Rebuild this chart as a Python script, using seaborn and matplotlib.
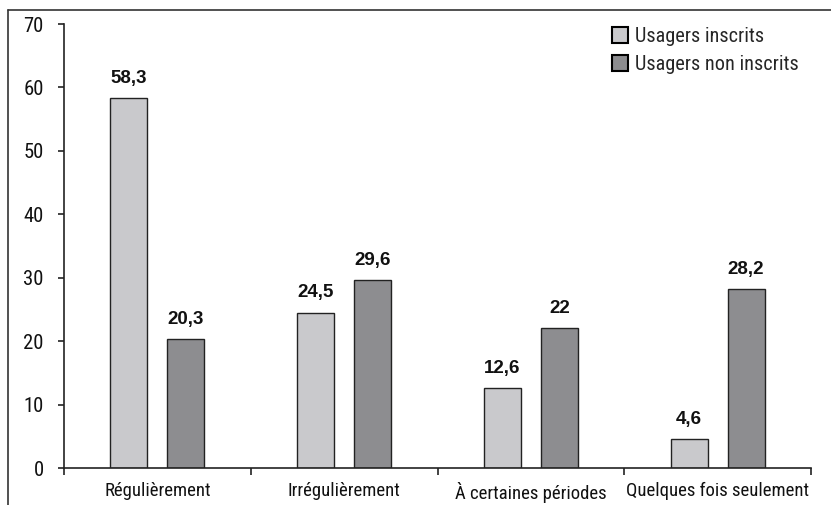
import pandas as pd
import seaborn as sns
import matplotlib.pyplot as plt
from matplotlib import font_manager as fm
from matplotlib.lines import Line2D

# data
categories = ["Régulièrement", "Irrégulièrement", "À certaines périodes", "Quelques fois seulement"]
groups = ["Usagers inscrits", "Usagers non inscrits"]
inscrits = [58.3, 24.5, 12.6, 4.6]
non_inscrits = [20.3, 29.6, 22, 28.2]
yticks = [0, 10, 20, 30, 40, 50, 60, 70]

sns.set_style("ticks")


def pick_font():
    # the reference uses a narrow DIN-like face; take the narrowest one we have
    for fam, size in [('Roboto Condensed', 13.5), ('Liberation Sans Narrow', 14)]:
        try:
            fm.findfont(fm.FontProperties(family=fam), fallback_to_default=False)
            return fam, 'normal', size
        except ValueError:
            pass
    path = fm.findfont(fm.FontProperties(family='DejaVu Sans', stretch='condensed'))
    if 'Condensed' in path:
        return 'DejaVu Sans', 'condensed', 12.5
    return 'Roboto', 'normal', 12.5


fam, stretch, fsize = pick_font()
plt.rcParams['font.family'] = [fam, 'DejaVu Sans']
plt.rcParams['font.stretch'] = stretch

df = pd.DataFrame({
    'cat': categories * 2,
    'grp': [groups[0]] * 4 + [groups[1]] * 4,
    'val': inscrits + non_inscrits,
})

fig = plt.figure(figsize=(8.31, 5.05), dpi=100)
ax = fig.add_axes([64 / 831, 37 / 505, (811 - 64) / 831, (468 - 24) / 505])

sns.barplot(data=df, x='cat', y='val', hue='grp', order=categories, hue_order=groups,
            palette=['#c8c8cc', '#8c8c90'], width=0.61, gap=0.35, errorbar=None,
            edgecolor='#222222', linewidth=1, ax=ax)

for cont, vals in zip(ax.containers, [inscrits, non_inscrits]):
    ax.bar_label(cont, labels=[f"{v:g}".replace('.', ',') for v in vals], padding=8,
                 fontsize=13.5, fontweight='bold', fontstretch='normal',
                 family=['Liberation Sans', 'DejaVu Sans'], color='#111111')

ax.set_xlim(-0.5, 3.5)
ax.set_ylim(0, 70)
ax.set_yticks(yticks)
ax.set_xlabel('')
ax.set_ylabel('')
ax.set_xticks(range(4))
ax.set_xticklabels(categories)
ax.set_xticks([-0.5, 0.5, 1.5, 2.5, 3.5], minor=True)
ax.tick_params(axis='x', which='major', length=0, pad=10, labelsize=fsize, colors='#111111')
ax.tick_params(axis='x', which='minor', length=5, width=1.2, direction='out', color='#222222')
ax.tick_params(axis='y', length=4.5, width=1.2, pad=10, labelsize=fsize * 1.1, colors='#111111')
ax.tick_params(axis='y', color='#222222')
sns.despine(ax=ax)
for s in ['left', 'bottom']:
    ax.spines[s].set_color('#222222')
    ax.spines[s].set_linewidth(1.2)

handles, labels = ax.get_legend_handles_labels()
ax.legend(handles, labels, loc='upper left', bbox_to_anchor=(612 / 831, 1 - 27 / 505),
          bbox_transform=fig.transFigure, frameon=False, fontsize=fsize * 1.08,
          handlelength=0.8, handleheight=0.8, handletextpad=0.35,
          labelspacing=0.45, borderpad=0, borderaxespad=0)
for h in ax.get_legend().legend_handles:
    h.set_edgecolor('black')
    h.set_linewidth(1.5)

# outer frame (top and left visible)
fig.add_artist(Line2D([8 / 831, 8 / 831], [0, 1 - 10 / 505], transform=fig.transFigure,
                      color='#333333', lw=1.2))
fig.add_artist(Line2D([8 / 831, 1], [1 - 10 / 505, 1 - 10 / 505], transform=fig.transFigure,
                      color='#333333', lw=1.2))

fig.savefig('out.png', dpi=100)
